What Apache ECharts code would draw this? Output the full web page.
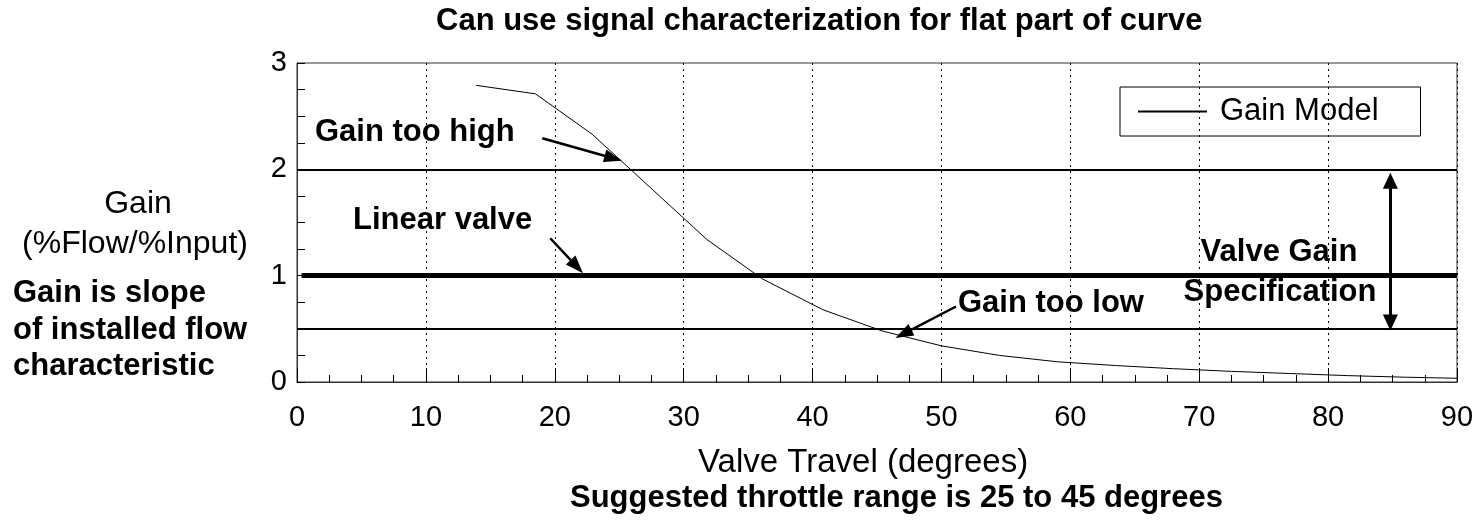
<!DOCTYPE html>
<html>
<head>
<meta charset="utf-8">
<script src="https://cdn.jsdelivr.net/npm/echarts@6/dist/echarts.min.js"></script>
<style>
html,body{margin:0;padding:0;background:#fff;}
#chart{width:1484px;height:532px;}
</style>
</head>
<body>
<div id="chart"></div>
<script>
// ---- data ----
const travel = [13.9, 18.5, 22.9, 27.4, 31.8, 36.1, 40.8, 45.4, 50.0, 54.5, 59.0, 63.5, 68.0, 72.5, 77.0, 81.5, 86.0, 90.0];
const gain   = [2.79, 2.71, 2.33, 1.83, 1.34, 0.97, 0.68, 0.48, 0.34, 0.25, 0.19, 0.155, 0.125, 0.10, 0.08, 0.06, 0.045, 0.035];
const seriesName = 'Gain Model';
const refLevels = [2, 1, 0.5];          // gain too high / linear / gain too low lines
const refWidths = [2, 5, 2];
const xTickValues = [0, 10, 20, 30, 40, 50, 60, 70, 80, 90];
const yTickValues = [0, 1, 2, 3];
// arrows in data units: [fromX, fromY, toX, toY]
const arrowHigh = [19.03, 2.292, 24.54, 2.104];
const arrowLinear = [19.65, 1.352, 21.71, 1.085];
const arrowLow = [51.13, 0.71, 47.05, 0.453];
const specArrow = [84.83, 0.56, 84.83, 1.893];

const titleText = 'Can use signal characterization for flat part of curve';
const bottomText = 'Suggested throttle range is 25 to 45 degrees';
const xName = 'Valve Travel (degrees)';
const yNameLines = ['Gain', '(%Flow/%Input)'];
const leftNote = ['Gain is slope', 'of installed flow', 'characteristic'];

const FONT = 'Arial, "Liberation Sans", Helvetica, sans-serif';
const chart = echarts.init(document.getElementById('chart'), null, {renderer: 'canvas'});

function arrowLine(a, w, headSize, both) {
  return {
    symbol: both ? ['triangle', 'triangle'] : ['none', 'triangle'],
    symbolSize: headSize,
    lineStyle: {color: '#000', width: w, type: 'solid'},
    label: {show: false},
    data: [[{coord: [a[0], a[1]]}, {coord: [a[2], a[3]]}]]
  };
}

const refData = refLevels.map((v, i) => [
  {coord: [i === 1 ? 0.35 : 0, v], lineStyle: {width: refWidths[i], color: '#000', type: 'solid'}},
  {coord: [90, v]}
]);

const graphics = [];
function txt(t, x, y, size, bold, align) {
  graphics.push({
    type: 'text', x: x, y: y, silent: true,
    style: {text: t, fill: '#000', font: (bold ? 'bold ' : '') + size + 'px ' + FONT,
            align: align || 'left', verticalAlign: 'middle'}
  });
}
txt(titleText, 436, 21, 31, true);
txt(bottomText, 570, 498, 31, true);
txt(xName, 698, 463, 33, false);
txt(yNameLines[0], 138, 204, 32, false, 'center');
txt(yNameLines[1], 135, 244, 32, false, 'center');
txt(leftNote[0], 13, 293, 31, true);
txt(leftNote[1], 13, 330, 31, true);
txt(leftNote[2], 13, 366, 31, true);
txt('Gain too high', 315, 132, 31, true);
txt('Linear valve', 353, 220, 31, true);
txt('Gain too low', 958, 303, 31, true);
txt('Valve Gain', 1279, 252, 31, true, 'center');
txt('Specification', 1280, 292, 31, true, 'center');

const option = {
  animation: false,
  backgroundColor: '#fff',
  grid: {left: 297, top: 63, width: 1160, height: 319, show: true, borderColor: '#333', borderWidth: 1, backgroundColor: 'transparent'},
  legend: {
    data: [seriesName], left: 1120, top: 87,
    borderColor: '#000', borderWidth: 1, borderRadius: 0,
    padding: [7, 42, 7, 17],
    itemWidth: 69, itemHeight: 14,
    textStyle: {fontFamily: FONT, fontSize: 31, color: '#000', padding: [0, 0, 0, 8], lineHeight: 35},
    itemStyle: {opacity: 0}
  },
  xAxis: {
    type: 'value', min: 0, max: 90, interval: 10,
    axisLine: {show: true, onZero: false, lineStyle: {color: '#333', width: 1}},
    axisTick: {show: true, inside: true, length: 14, lineStyle: {color: '#000', width: 1}},
    minorTick: {show: true, splitNumber: 4, length: 7, lineStyle: {color: '#000', width: 1}},
    axisLabel: {margin: 21, fontFamily: FONT, fontSize: 29, color: '#000',
                formatter: v => xTickValues.includes(v) ? String(v) : ''},
    splitLine: {show: true, lineStyle: {color: '#000', width: 1, type: [2, 4]}}
  },
  yAxis: {
    type: 'value', min: 0, max: 3, interval: 1,
    axisLine: {show: true, onZero: false, lineStyle: {color: '#333', width: 1}},
    axisTick: {show: true, inside: true, length: 8, lineStyle: {color: '#000', width: 1}},
    minorTick: {show: true, splitNumber: 4, length: 8, lineStyle: {color: '#000', width: 1}},
    axisLabel: {margin: 10, fontFamily: FONT, fontSize: 29, color: '#000', padding: [8, 0, 0, 0],
                formatter: v => yTickValues.includes(v) ? String(v) : ''},
    splitLine: {show: false}
  },
  series: [
    {
      name: seriesName, type: 'line', data: travel.map((x, i) => [x, gain[i]]),
      symbol: 'none', smooth: false, z: 5,
      lineStyle: {color: '#000', width: 1},
      itemStyle: {color: '#000'},
      markLine: {silent: true, symbol: ['none', 'none'], label: {show: false}, animation: false,
                 lineStyle: {color: '#000', type: 'solid'}, data: refData}
    },
    {type: 'line', data: [], markLine: Object.assign({silent: true, animation: false}, arrowLine(arrowHigh, 2.5, [13, 18], false))},
    {type: 'line', data: [], markLine: Object.assign({silent: true, animation: false}, arrowLine(arrowLinear, 2.5, [13, 18], false))},
    {type: 'line', data: [], markLine: Object.assign({silent: true, animation: false}, arrowLine(arrowLow, 2.5, [13, 18], false))},
    {type: 'line', data: [], markLine: Object.assign({silent: true, animation: false}, arrowLine(specArrow, 3, [15, 16], true))}
  ],
  graphic: graphics
};
chart.setOption(option);
</script>
</body>
</html>
